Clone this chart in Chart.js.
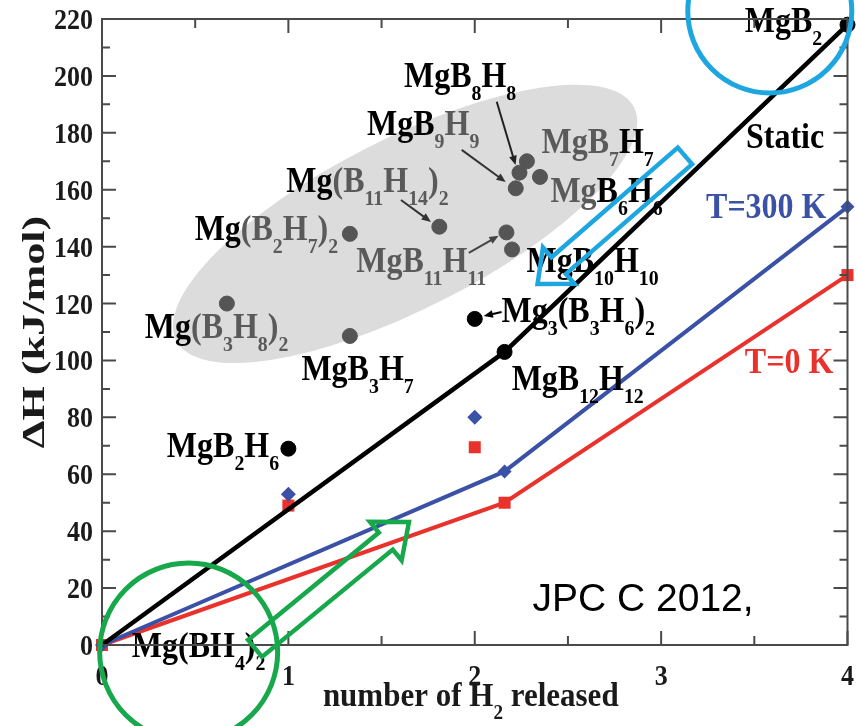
<!DOCTYPE html>
<html>
<head>
<meta charset="utf-8">
<script src="https://cdn.jsdelivr.net/npm/chart.js@4.4.0/dist/chart.umd.min.js"></script>
<style>
    html, body { margin: 0; padding: 0; background: #fff; }
    canvas { display: block; }
</style>
</head>
<body>
<canvas id="chart" width="856" height="726"></canvas>
<script>

/* -------------------------
   DATA
--------------------------*/

const xTicks = [0, 1, 2, 3, 4];
const yTicks = [0, 20, 40, 60, 80, 100, 120, 140, 160, 180, 200, 220];

// lines
const staticX = [0, 2.16, 4];
const staticY = [0, 103, 218];
const t300X = [0, 2.16, 4];
const t300Y = [0, 61, 154];
const t0X = [0, 2.16, 4];
const t0Y = [0, 50, 130];

// loose points
const t300ExtraX = [1, 2];
const t300ExtraY = [53, 80];
const t0ExtraX = [1, 2];
const t0ExtraY = [49, 69.5];

// black dots: MgB2H6, Mg3(B3H6)2, MgB12H12, MgB2
const blackX = [1, 2, 2.16, 4];
const blackY = [69, 114.6, 103, 218];

// dots inside the grey ellipse
const greyX = [0.67, 1.33, 1.33, 1.81, 2.17, 2.2, 2.28, 2.22, 2.35, 2.24];
const greyY = [120, 144.5, 108.6, 147, 145, 139, 170, 160.5, 164.5, 166];

const BLUE = "#3a51a6";
const RED = "#e8322b";
const CYAN = "#1ea6e0";
const GREEN = "#17a84b";
const K = "#000";
const G = "#5a5a5a";
const SERIF = '"Liberation Serif", "DejaVu Serif", serif';

const toPoints = (xs, ys) => xs.map((x, i) => ({ x: x, y: ys[i] }));

/* -------------------------
   LABELS (anchored in data units, "|" switches colour)
--------------------------*/

const labels = [
    ["MgB_8H_8", 1.62, 196.1, [K]],
    ["MgB|_9H_9", 1.422, 179.3, [K, G]],
    ["Mg|(B_11H_14)_2", 0.989, 159.2, [K, G]],
    ["Mg|(B_2H_7)_2", 0.497, 142.4, [K, G]],
    ["MgB_11H_11", 1.364, 131.1, [G]],
    ["Mg|(B_3H_8)_2", 0.23, 107.9, [K, G]],
    ["MgB_3H_7", 1.07, 93.1, [K]],
    ["MgB_7|H_7", 2.358, 172.9, [G, K]],
    ["Mg|B_6H_6", 2.406, 155.7, [G, K]],
    ["MgB_10H_10", 2.278, 131.1, [K]],
    ["Mg_3(B_3H_6)_2", 2.144, 113.5, [K]],
    ["MgB_12H_12", 2.198, 89.6, [K]],
    ["MgB_2H_6", 0.348, 66.1, [K]],
    ["MgB_2", 3.449, 215.5, [K]],
    ["Static", 3.455, 174.7, [K]],
    ["T=300 K", 3.241, 150.1, [BLUE]],
    ["T=0 K", 3.449, 95.6, [RED]],
    ["Mg(BH_4)_2", 0.16, -4.2, [K]]
];

// small pointer arrows [x0, y0, x1, y1, colour]
const pointers = [
    [2.118, 190.9, 2.219, 168.7, "#222"],
    [1.930, 174.0, 2.166, 162.7, "#333"],
    [1.604, 156.4, 1.765, 148.7, "#333"],
    [1.968, 137.8, 2.128, 143.8, "#444"],
    [2.144, 117.0, 2.048, 115.6, "#000"]
];

/* -------------------------
   TEXT HELPERS
--------------------------*/

function measureChem(ctx, str, size) {
    let w = 0;
    str.split(/(_\d+)/).filter(Boolean).forEach(p => {
        if (p[0] === "_") {
            ctx.font = `bold ${size * 0.62}px ${SERIF}`;
            w += ctx.measureText(p.slice(1)).width;
        } else {
            ctx.font = `bold ${size}px ${SERIF}`;
            w += ctx.measureText(p).width;
        }
    });
    return w;
}

function drawChem(ctx, str, x, y, size, color, stretch, align) {
    const w = measureChem(ctx, str, size);
    let cx = 0;
    if (align === "center") cx = -w / 2;
    if (align === "right") cx = -w;

    ctx.save();
    ctx.translate(x, y);
    ctx.scale(1, stretch);
    ctx.fillStyle = color;
    ctx.textAlign = "left";
    ctx.textBaseline = "alphabetic";
    str.split(/(_\d+)/).filter(Boolean).forEach(p => {
        if (p[0] === "_") {
            ctx.font = `bold ${size * 0.62}px ${SERIF}`;
            ctx.fillText(p.slice(1), cx, size * 0.38);
            cx += ctx.measureText(p.slice(1)).width;
        } else {
            ctx.font = `bold ${size}px ${SERIF}`;
            ctx.fillText(p, cx, 0);
            cx += ctx.measureText(p).width;
        }
    });
    ctx.restore();
    return w;
}

function blockArrow(ctx, x0, y0, x1, y1, shaftW, headW, headL, color) {
    const L = Math.hypot(x1 - x0, y1 - y0);
    ctx.save();
    ctx.translate(x0, y0);
    ctx.rotate(Math.atan2(y1 - y0, x1 - x0));
    ctx.beginPath();
    ctx.moveTo(0, -shaftW / 2);
    ctx.lineTo(L - headL, -shaftW / 2);
    ctx.lineTo(L - headL, -headW / 2);
    ctx.lineTo(L, 0);
    ctx.lineTo(L - headL, headW / 2);
    ctx.lineTo(L - headL, shaftW / 2);
    ctx.lineTo(0, shaftW / 2);
    ctx.closePath();
    ctx.lineWidth = 4.5;
    ctx.lineJoin = "miter";
    ctx.strokeStyle = color;
    ctx.stroke();
    ctx.restore();
}

function pointer(ctx, x0, y0, x1, y1, color) {
    const a = Math.atan2(y1 - y0, x1 - x0);
    ctx.save();
    ctx.strokeStyle = color;
    ctx.fillStyle = color;
    ctx.lineWidth = 2;
    ctx.beginPath();
    ctx.moveTo(x0, y0);
    ctx.lineTo(x1 - 6 * Math.cos(a), y1 - 6 * Math.sin(a));
    ctx.stroke();
    ctx.beginPath();
    ctx.moveTo(x1, y1);
    ctx.lineTo(x1 - 10 * Math.cos(a - 0.4), y1 - 10 * Math.sin(a - 0.4));
    ctx.lineTo(x1 - 10 * Math.cos(a + 0.4), y1 - 10 * Math.sin(a + 0.4));
    ctx.closePath();
    ctx.fill();
    ctx.restore();
}

/* -------------------------
   DECORATION PLUGIN
--------------------------*/

const decorations = {
    id: "decorations",
    beforeDatasetsDraw(chart) {
        const ctx = chart.ctx;
        const px = v => chart.scales.x.getPixelForValue(v);
        const py = v => chart.scales.y.getPixelForValue(v);

        // grey ellipse behind the borohydride cluster
        ctx.save();
        ctx.fillStyle = "#dcdcdc";
        ctx.beginPath();
        ctx.ellipse(px(1.626), py(148), 257, 85, -27 * Math.PI / 180, 0, Math.PI * 2);
        ctx.fill();
        ctx.restore();
    },
    afterDatasetsDraw(chart) {
        const ctx = chart.ctx;
        const px = v => chart.scales.x.getPixelForValue(v);
        const py = v => chart.scales.y.getPixelForValue(v);
        const area = chart.chartArea;

        // labels and pointers
        labels.forEach(([txt, x, y, cols]) => {
            let cx = px(x);
            txt.split("|").forEach((piece, i) => {
                cx += drawChem(ctx, piece, cx, py(y), 32, cols[i], 1.1, "left");
            });
        });
        pointers.forEach(([x0, y0, x1, y1, c]) => pointer(ctx, px(x0), py(y0), px(x1), py(y1), c));

        // frame
        ctx.save();
        ctx.strokeStyle = "#4a4a4a";
        ctx.lineWidth = 2;
        ctx.strokeRect(area.left, area.top, area.right - area.left, area.bottom - area.top);

        // ticks, inward on all four sides
        ctx.beginPath();
        for (let v = 0; v <= 220; v += 10) {
            const len = v % 20 === 0 ? 14 : 8;
            const y = py(v);
            ctx.moveTo(area.left, y); ctx.lineTo(area.left + len, y);
            ctx.moveTo(area.right, y); ctx.lineTo(area.right - len, y);
        }
        for (let v = 0; v <= 4; v += 0.5) {
            const len = v % 1 === 0 ? 14 : 9;
            const x = px(v);
            ctx.moveTo(x, area.bottom); ctx.lineTo(x, area.bottom - len);
            ctx.moveTo(x, area.top); ctx.lineTo(x, area.top + len);
        }
        ctx.stroke();
        ctx.restore();

        // tick labels
        yTicks.forEach(v => {
            drawChem(ctx, String(v), area.left - 9, py(v) + 10, 26, "#1a1a1a", 1.15, "right");
        });
        xTicks.forEach(v => {
            drawChem(ctx, String(v), px(v), area.bottom + 40, 26, "#1a1a1a", 1.15, "center");
        });

        // axis titles
        drawChem(ctx, "number of H_2 released", px(2) - 4, area.bottom + 61, 31, "#1a1a1a", 1.1, "center");

        ctx.save();
        ctx.translate(44, (area.top + area.bottom) / 2);
        ctx.rotate(-Math.PI / 2);
        ctx.scale(1.38, 1);
        drawChem(ctx, "\u0394H (kJ/mol)", 0, 0, 32, "#1a1a1a", 1, "center");
        ctx.restore();
    },
    afterDraw(chart) {
        const ctx = chart.ctx;
        const px = v => chart.scales.x.getPixelForValue(v);
        const py = v => chart.scales.y.getPixelForValue(v);

        // presentation overlays
        ctx.save();
        ctx.lineWidth = 5;
        ctx.strokeStyle = CYAN;
        ctx.beginPath();
        ctx.arc(px(3.583), py(222.8), 82, 0, Math.PI * 2);
        ctx.stroke();
        ctx.strokeStyle = GREEN;
        ctx.beginPath();
        ctx.arc(px(0.465), py(-2.5), 89, 0, Math.PI * 2);
        ctx.stroke();
        ctx.restore();

        blockArrow(ctx, px(3.128), py(171.9), px(2.337), py(126.9), 22, 48, 28, CYAN);
        blockArrow(ctx, px(0.821), py(-1.2), px(1.647), py(43.2), 22, 50, 30, GREEN);

        ctx.save();
        ctx.fillStyle = "#000";
        ctx.font = '39px "Liberation Sans", Arial, sans-serif';
        ctx.textBaseline = "alphabetic";
        ctx.fillText("JPC C 2012,", px(2.31), py(12));
        ctx.restore();
    }
};

/* -------------------------
   CHART
--------------------------*/

new Chart(document.getElementById("chart"), {
    type: "scatter",
    data: {
        datasets: [
            {
                data: toPoints(blackX, blackY),
                pointStyle: "circle",
                pointRadius: 7.5,
                backgroundColor: "#000",
                borderColor: "#000",
                showLine: false
            },
            {
                data: toPoints(staticX, staticY),
                showLine: true,
                borderColor: "#000",
                borderWidth: 4.5,
                pointRadius: 0
            },
            {
                data: toPoints(t300X, t300Y),
                showLine: true,
                borderColor: BLUE,
                borderWidth: 4,
                pointStyle: "rectRot",
                pointRadius: 7,
                backgroundColor: BLUE,
                pointBorderWidth: 0
            },
            {
                data: toPoints(t300ExtraX, t300ExtraY),
                pointStyle: "rectRot",
                pointRadius: 7.5,
                backgroundColor: BLUE,
                borderColor: BLUE,
                pointBorderWidth: 0
            },
            {
                data: toPoints(t0X, t0Y),
                showLine: true,
                borderColor: RED,
                borderWidth: 4,
                pointStyle: "rect",
                pointRadius: 8.5,
                backgroundColor: RED,
                pointBorderWidth: 0
            },
            {
                data: toPoints(t0ExtraX, t0ExtraY),
                pointStyle: "rect",
                pointRadius: 8.5,
                backgroundColor: RED,
                borderColor: RED,
                pointBorderWidth: 0
            },
            {
                data: toPoints(greyX, greyY),
                pointStyle: "circle",
                pointRadius: 7.5,
                backgroundColor: "#555",
                borderColor: "#555"
            }
        ]
    },
    options: {
        responsive: false,
        animation: false,
        devicePixelRatio: 1,
        clip: false,
        elements: { line: { tension: 0 } },
        layout: { padding: { left: 102, top: 19, right: 7, bottom: 81 } },
        plugins: {
            legend: { display: false },
            tooltip: { enabled: false }
        },
        scales: {
            x: { type: "linear", min: 0, max: 4, display: false },
            y: { type: "linear", min: 0, max: 220, display: false }
        }
    },
    plugins: [decorations]
});
</script>
</body>
</html>
